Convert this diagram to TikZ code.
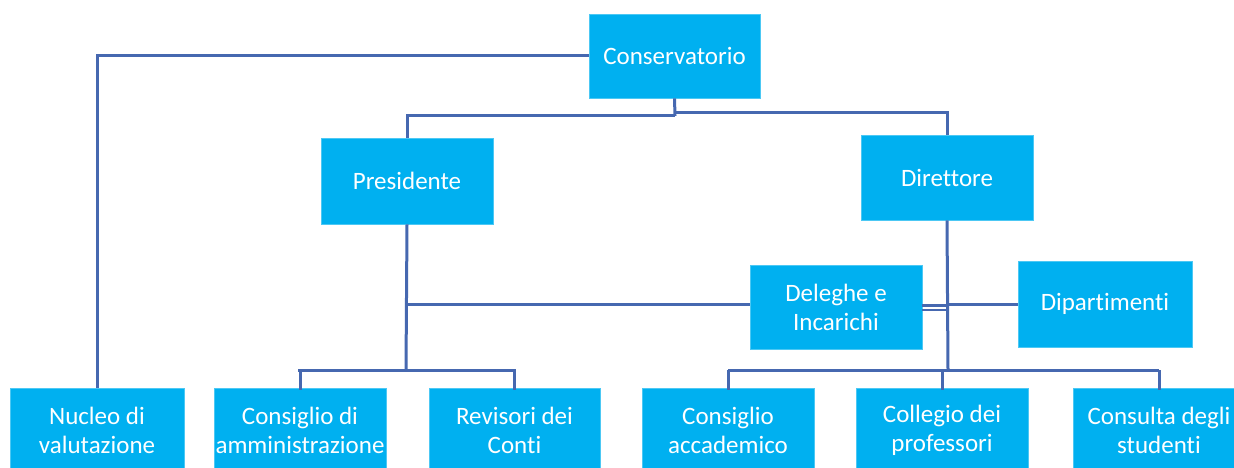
\documentclass[tikz,border=0pt]{standalone}
\usepackage{fontspec}
\setmainfont{Carlito}[Ligatures={NoCommon,NoRequired,NoContextual}]
\definecolor{boxcyan}{RGB}{0,176,240}
\definecolor{linkblue}{RGB}{70,104,176}
\begin{document}
\begin{tikzpicture}[x=1pt,y=-1pt,
  orgbox/.style={fill=boxcyan, draw=boxcyan!70!white, line width=0.6pt, text=white, align=center,
    minimum width=172pt, minimum height=84pt, inner sep=0pt,
    font=\fontsize{25}{29}\selectfont},
  link/.style={draw=linkblue, line width=3pt}]
\useasboundingbox (0,0) rectangle (1234,468);
\clip (0,0) rectangle (1234,468);
\fill[white] (0,0) rectangle (1234,468);
% boxes
\node[orgbox, minimum width=171pt] (cons) at (674.5,56) {Conservatorio};
\node[orgbox, minimum height=86pt] (pres) at (407,181) {Presidente};
\node[orgbox, minimum height=85pt] (dir) at (947,177.5) {Direttore};
\node[orgbox] (del) at (836,307) {Deleghe e\\Incarichi};
\node[orgbox, minimum width=174pt, minimum height=86pt] (dip) at (1105,304) {Dipartimenti};
\node[orgbox, minimum width=174pt] (nuc) at (97,430) {Nucleo di\\valutazione};
\node[orgbox] (cda) at (300,430) {Consiglio di\\amministrazione};
\node[orgbox, minimum width=171pt] (rev) at (514.5,430) {Revisori dei\\Conti};
\node[orgbox] (cac) at (728,430) {Consiglio\\accademico};
\node[orgbox] (col) at (942,430) {Collegio dei\\professori};
\node[orgbox] (csd) at (1159,430) {Consulta degli\\studenti};
% coordinates
\coordinate (cj) at (675,116);
\coordinate (cjr) at (675,113);
\coordinate (pj) at (406,370);
\coordinate (dl) at (406,304);
\coordinate (dj) at (948,370);
\coordinate (dd) at (948,304);
% connectors
\draw[link] (cons.west) -| (nuc.north);
\draw[link] (cons.south) -- (cj);
\draw[link] (cj) -| (pres.north);
\draw[link] (cjr) -| (dir.north);
\draw[link] (pres.south) -- (pj);
\draw[link] ([xshift=-2pt]cda.north |- pj) -| ([yshift=-2pt]cda.north);
\draw[link] (cda.north |- pj) -- (rev.north |- pj) -- ([yshift=-2pt]rev.north);
\draw[link] (dl) -- (dl -| del.west);
\draw[link] (dir.south) -- (dj);
\draw[link] (cac.north |- dj) -- (csd.north |- dj);
\draw[link] (cac.north |- dj) -- ([yshift=-2pt]cac.north);
\draw[link] (col.north |- dj) -- ([yshift=-2pt]col.north);
\draw[link] (csd.north |- dj) -- ([yshift=-2pt]csd.north);
\draw[link] (dd) -- (dip.west);
\draw[link, line width=2.2pt] ([yshift=-3pt]del.east) -- ([yshift=-3pt]del.east -| dd);
\draw[link, line width=2.2pt] ([yshift=1.5pt]del.east) -- ([yshift=1.5pt]del.east -| dd);
\end{tikzpicture}
\end{document}
